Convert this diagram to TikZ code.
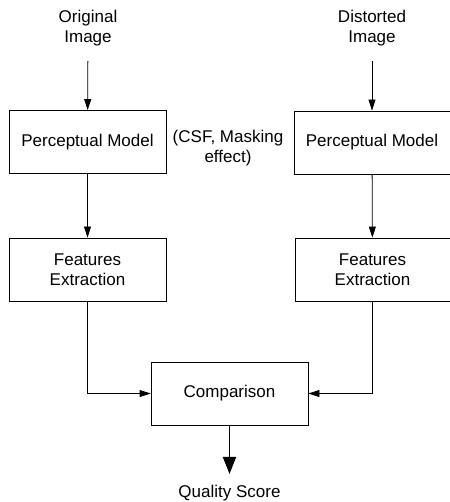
\documentclass[tikz,border=0pt]{standalone}
\usepackage{fontspec}
\setmainfont{Liberation Sans}
\usetikzlibrary{arrows.meta}
\begin{document}
\begin{tikzpicture}[x=1pt,y=1pt,
  font=\fontsize{17}{20}\selectfont,
  block/.style={draw,line width=0.8pt,minimum width=157pt,minimum height=63pt,align=center,inner sep=0pt},
  label/.style={align=center,inner sep=0pt},
  flow/.style={-{Triangle[length=11pt,width=7pt]},line width=0.8pt},
  outflow/.style={-{Triangle[length=17pt,width=13pt]},line width=1.6pt}]
\useasboundingbox (0,0) rectangle (449,-502);

% points
\path (88,-28)     node[label] (orig) {Original\\Image};
\path (372,-28)    node[label] (dist) {Distorted\\Image};
\path (87.5,-142)  node[block] (pmL) {Perceptual Model};
\path (372,-142.5) node[block,minimum width=156pt] (pmR) {Perceptual Model};
\path (228,-148)   node[label] (csf) {(CSF, Masking\\effect)};
\path (87.5,-269.5) node[block] (feL) {Features\\Extraction};
\path (372.5,-269.5) node[block,minimum width=155pt] (feR) {Features\\Extraction};
\path (229.5,-393.5) node[block] (comp) {Comparison};
\path (229.5,-497) node[label,anchor=base] (score) {Quality Score};

% edges
\draw[flow,shorten <=15pt] (orig) -- (pmL);
\draw[flow,shorten <=15pt] (dist) -- (pmR);
\draw[flow] (pmL) -- (feL);
\draw[flow] (pmR) -- (feR);
\draw[flow] (feL) |- (comp);
\draw[flow] (feR.south -| 372,0) |- (comp);
\draw[outflow,shorten >=10.5pt] (comp) -- (score);

\end{tikzpicture}
\end{document}
